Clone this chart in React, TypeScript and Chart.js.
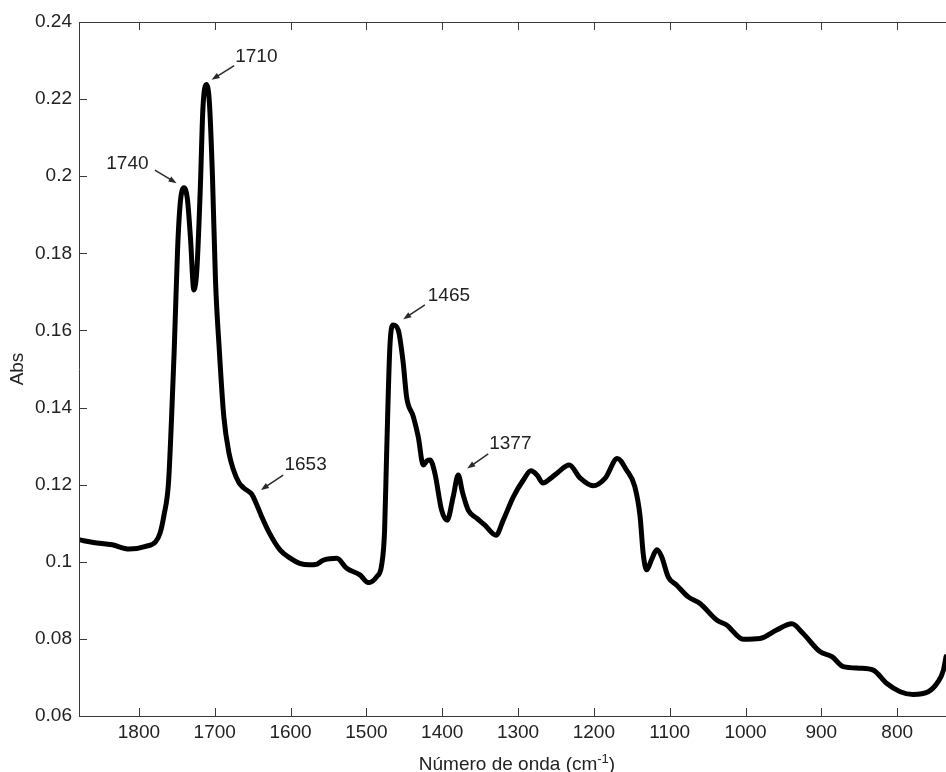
import React, { useEffect, useRef } from "react";
import { Chart, registerables } from "chart.js";

Chart.register(...registerables);

// Spectrum data (wavenumber in cm-1, absorbance)
const wavenumbers = [
  1879, 1860, 1835, 1813, 1791, 1778, 1772, 1767, 1761, 1757, 1753.4, 1749, 1745.5, 1740.6, 1736, 1732,
  1727.5, 1723.5, 1719, 1715.6, 1711, 1707, 1703, 1699, 1694, 1688, 1681, 1675.6, 1668, 1662, 1655, 1651,
  1645, 1638, 1628, 1614, 1600, 1588, 1575, 1565, 1557, 1548, 1539, 1526, 1508.5, 1497.6, 1486.5, 1480,
  1476, 1473.3, 1469, 1464.6, 1458, 1451.4, 1447, 1438, 1431.6, 1425, 1420, 1416, 1409.6, 1400.8, 1393.4,
  1385.5, 1378.9, 1373, 1365.7, 1354.6, 1343.7, 1329, 1319.5, 1306, 1293, 1283, 1275, 1267, 1258, 1249,
  1232.5, 1218, 1201, 1185, 1169, 1157, 1146, 1139, 1135, 1130.4, 1124, 1117, 1110.6, 1102, 1091, 1075.5,
  1060, 1038, 1025, 1003, 981, 959, 939, 924, 902, 886, 871, 849, 831.5, 814, 796, 779, 759, 746, 739, 735.6,
];
const absorbance = [
  0.1057, 0.105, 0.1044, 0.1033, 0.104, 0.1052, 0.1075, 0.112, 0.1204, 0.137, 0.155, 0.181, 0.193, 0.197, 0.194, 0.184,
  0.1705, 0.176, 0.197, 0.2175, 0.2238, 0.219, 0.2, 0.173, 0.155, 0.1376, 0.128, 0.124, 0.1205, 0.1192, 0.1182, 0.1175,
  0.115, 0.1117, 0.1075, 0.1031, 0.1009, 0.0996, 0.0992, 0.0994, 0.1004, 0.1008, 0.1009, 0.0983, 0.0966, 0.0946, 0.0961, 0.099,
  0.108, 0.128, 0.1558, 0.1614, 0.1601, 0.1515, 0.1428, 0.1376, 0.1324, 0.1251, 0.1262, 0.1264, 0.1229, 0.1134, 0.1108,
  0.1169, 0.1225, 0.1178, 0.1134, 0.1113, 0.1095, 0.1069, 0.1108, 0.1169, 0.1212, 0.1236, 0.1225, 0.1204, 0.1215, 0.1229,
  0.1251, 0.1217, 0.1197, 0.1217, 0.1268, 0.1238, 0.1195, 0.1117, 0.1022, 0.0979, 0.1005, 0.1031, 0.1013, 0.0961, 0.094, 0.0909,
  0.0892, 0.0849, 0.0836, 0.0799, 0.0801, 0.0823, 0.0839, 0.0814, 0.0767, 0.0754, 0.0728, 0.0724, 0.0719, 0.0685, 0.0663, 0.0656, 0.0663, 0.0689, 0.0719, 0.0754,
];

const xTicks = [1800, 1700, 1600, 1500, 1400, 1300, 1200, 1100, 1000, 900, 800];
const yTicks = [0.06, 0.08, 0.1, 0.12, 0.14, 0.16, 0.18, 0.2, 0.22, 0.24];
const xMin = 735.6;
const xMax = 1879;
const yMin = 0.06;
const yMax = 0.24;

// Peak annotations (data coordinates)
const annLabels = ["1740", "1710", "1653", "1465", "1377"];
const annTextX = [1843, 1673, 1608, 1419, 1338];
const annTextY = [0.2019, 0.2296, 0.1238, 0.1677, 0.1293];
const annTailX = [1778.9, 1674.3, 1609.7, 1422.8, 1339.3];
const annTailY = [0.2016, 0.2287, 0.1225, 0.1666, 0.128];
const annTipX = [1750.3, 1704.1, 1639.1, 1451.4, 1367.0];
const annTipY = [0.1982, 0.225, 0.1186, 0.1629, 0.1242];

const xTitleMain = "Número de onda (cm";
const xTitleSup = "-1";
const xTitleEnd = ")";
const yTitle = "Abs";

const FONT = '"Liberation Sans", Arial, Helvetica, sans-serif';
const TEXT = "#222222";
const AXIS = "#3a3a3a";

const decorPlugin = {
  id: "decor",
  afterDraw(chart: any) {
    const { ctx, chartArea } = chart;
    const xs = chart.scales.x;
    const ys = chart.scales.y;
    const { left, right, top, bottom } = chartArea;
    ctx.save();
    // axes box (left, bottom, top)
    ctx.strokeStyle = AXIS;
    ctx.lineWidth = 1;
    ctx.beginPath();
    ctx.moveTo(left + 0.5, top + 0.5);
    ctx.lineTo(left + 0.5, bottom + 0.5);
    ctx.lineTo(right, bottom + 0.5);
    ctx.moveTo(left + 0.5, top + 0.5);
    ctx.lineTo(right, top + 0.5);
    ctx.stroke();
    // inward tick marks
    const tl = 8;
    ctx.beginPath();
    xTicks.forEach((v) => {
      const px = Math.round(xs.getPixelForValue(v)) + 0.5;
      ctx.moveTo(px, bottom);
      ctx.lineTo(px, bottom - tl);
      ctx.moveTo(px, top);
      ctx.lineTo(px, top + tl);
    });
    yTicks.forEach((v) => {
      const py = Math.round(ys.getPixelForValue(v)) + 0.5;
      ctx.moveTo(left, py);
      ctx.lineTo(left + tl, py);
    });
    ctx.stroke();

    // y title
    ctx.fillStyle = TEXT;
    ctx.font = `19px ${FONT}`;
    ctx.save();
    ctx.translate(23, (top + bottom) / 2);
    ctx.rotate(-Math.PI / 2);
    ctx.textAlign = "center";
    ctx.textBaseline = "alphabetic";
    ctx.fillText(yTitle, 0, 0);
    ctx.restore();

    // x title with superscript
    ctx.textAlign = "left";
    ctx.textBaseline = "alphabetic";
    ctx.font = `19px ${FONT}`;
    const w1 = ctx.measureText(xTitleMain).width;
    const w3 = ctx.measureText(xTitleEnd).width;
    ctx.font = `13px ${FONT}`;
    const w2 = ctx.measureText(xTitleSup).width;
    const total = w1 + w2 + w3;
    const cx = (left + 946 + 0) / 2 + 4;
    let sx = 517 - total / 2;
    void cx;
    const baseY = 770;
    ctx.font = `19px ${FONT}`;
    ctx.fillText(xTitleMain, sx, baseY);
    sx += w1;
    ctx.font = `13px ${FONT}`;
    ctx.fillText(xTitleSup, sx, baseY - 7);
    sx += w2;
    ctx.font = `19px ${FONT}`;
    ctx.fillText(xTitleEnd, sx, baseY);

    // annotations
    ctx.font = `19px ${FONT}`;
    ctx.fillStyle = TEXT;
    annLabels.forEach((lab, i) => {
      const tx = xs.getPixelForValue(annTextX[i]);
      const ty = ys.getPixelForValue(annTextY[i]);
      ctx.fillText(lab, tx, ty);
      const ax = xs.getPixelForValue(annTailX[i]);
      const ay = ys.getPixelForValue(annTailY[i]);
      const bx = xs.getPixelForValue(annTipX[i]);
      const by = ys.getPixelForValue(annTipY[i]);
      const ang = Math.atan2(by - ay, bx - ax);
      const hl = 8;
      const hw = 3;
      ctx.strokeStyle = "#2a2a2a";
      ctx.lineWidth = 1.5;
      ctx.beginPath();
      ctx.moveTo(ax, ay);
      ctx.lineTo(bx - Math.cos(ang) * hl * 0.8, by - Math.sin(ang) * hl * 0.8);
      ctx.stroke();
      ctx.fillStyle = "#2a2a2a";
      ctx.beginPath();
      ctx.moveTo(bx, by);
      ctx.lineTo(
        bx - Math.cos(ang) * hl + Math.sin(ang) * hw,
        by - Math.sin(ang) * hl - Math.cos(ang) * hw
      );
      ctx.lineTo(
        bx - Math.cos(ang) * hl - Math.sin(ang) * hw,
        by - Math.sin(ang) * hl + Math.cos(ang) * hw
      );
      ctx.closePath();
      ctx.fill();
      ctx.fillStyle = TEXT;
    });
    ctx.restore();
  },
};

export default function App() {
  const ref = useRef<HTMLCanvasElement | null>(null);
  useEffect(() => {
    if (!ref.current) return;
    const points = wavenumbers.map((w, i) => ({ x: w, y: absorbance[i] }));
    const chart = new Chart(ref.current, {
      type: "line",
      data: {
        datasets: [
          {
            data: points,
            borderColor: "#000000",
            borderWidth: 5,
            pointRadius: 0,
            fill: false,
            cubicInterpolationMode: "monotone",
            borderJoinStyle: "round",
            borderCapStyle: "round",
          },
        ],
      },
      options: {
        animation: false,
        responsive: false,
        maintainAspectRatio: false,
        events: [],
        layout: { padding: { top: 22, right: 0, left: 0, bottom: 0 } },
        plugins: { legend: { display: false }, tooltip: { enabled: false }, title: { display: false } },
        scales: {
          x: {
            type: "linear",
            reverse: true,
            min: xMin,
            max: xMax,
            border: { display: false },
            grid: { display: false, drawTicks: false },
            afterBuildTicks: (scale: any) => {
              scale.ticks = xTicks.map((v) => ({ value: v }));
            },
            afterFit: (scale: any) => {
              scale.height = 56;
            },
            ticks: {
              autoSkip: false,
              maxRotation: 0,
              padding: 5,
              color: TEXT,
              font: { family: FONT, size: 19 },
              callback: (v: any) => String(v),
            },
          },
          y: {
            type: "linear",
            min: yMin,
            max: yMax,
            border: { display: false },
            grid: { display: false, drawTicks: false },
            afterBuildTicks: (scale: any) => {
              scale.ticks = yTicks.map((v) => ({ value: v }));
            },
            afterFit: (scale: any) => {
              scale.width = 79;
            },
            ticks: {
              autoSkip: false,
              padding: 7,
              color: TEXT,
              font: { family: FONT, size: 19 },
              callback: (v: any) => String(Number(Number(v).toFixed(2))),
            },
          },
        },
      },
      plugins: [decorPlugin],
    });
    return () => chart.destroy();
  }, []);
  return (
    <div style={{ position: "fixed", left: 0, top: 0, width: 946, height: 772, background: "#fff" }}>
      <canvas ref={ref} width={946} height={772} style={{ display: "block" }} />
    </div>
  );
}
